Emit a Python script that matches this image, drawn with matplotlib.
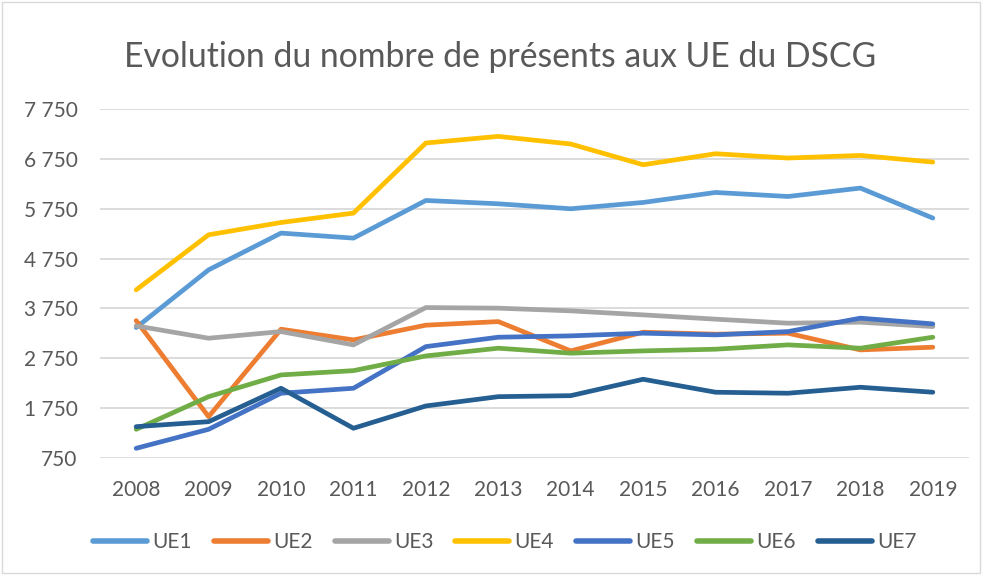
import matplotlib.pyplot as plt
from matplotlib.ticker import FuncFormatter
from matplotlib.patches import Rectangle

plt.rcParams['font.family'] = ['Lato', 'DejaVu Sans']

annees = ['2008', '2009', '2010', '2011', '2012', '2013', '2014', '2015', '2016', '2017', '2018', '2019']

ue1 = [3366, 4526, 5265, 5164, 5921, 5854, 5754, 5881, 6082, 6001, 6170, 5567]
ue2 = [3506, 1575, 3333, 3118, 3414, 3486, 2897, 3273, 3233, 3253, 2917, 2971]
ue3 = [3400, 3152, 3285, 3018, 3768, 3756, 3702, 3621, 3535, 3454, 3474, 3386]
ue4 = [4124, 5231, 5478, 5667, 7076, 7209, 7056, 6639, 6860, 6774, 6826, 6693]
ue5 = [939, 1321, 2046, 2146, 2983, 3172, 3199, 3253, 3219, 3285, 3555, 3440]
ue6 = [1321, 1977, 2414, 2500, 2796, 2951, 2851, 2897, 2931, 3018, 2951, 3172]
ue7 = [1374, 1474, 2146, 1342, 1790, 1977, 1997, 2327, 2066, 2046, 2166, 2066]

series = [
    ('UE1', ue1, '#5B9BD5'),
    ('UE2', ue2, '#ED7D31'),
    ('UE3', ue3, '#A5A5A5'),
    ('UE4', ue4, '#FFC000'),
    ('UE5', ue5, '#4472C4'),
    ('UE6', ue6, '#70AD47'),
    ('UE7', ue7, '#255E91'),
]

fig = plt.figure(figsize=(9.82, 5.75), dpi=100)
ax = fig.add_axes([0.1018, 0.204, 0.885, 0.6056])

x = list(range(len(annees)))
for nom, valeurs, couleur in series:
    ax.plot(x, valeurs, color=couleur, lw=3.4, label=nom,
            solid_capstyle='round', solid_joinstyle='round')

ax.set_xlim(-0.5, 11.5)
ax.set_ylim(750, 7750)
ax.set_yticks(range(750, 7751, 1000))
ax.yaxis.set_major_formatter(FuncFormatter(lambda v, p: f'{int(v):,}'.replace(',', ' ')))
ax.set_xticks(x)
ax.set_xticklabels(annees)

ax.grid(axis='y', color='#D9D9D9', lw=1.3)
ax.set_axisbelow(True)
for s in ax.spines.values():
    s.set_visible(False)
ax.tick_params(length=0, labelsize=15, colors='#595959')
ax.tick_params(axis='x', pad=16)
ax.tick_params(axis='y', pad=16)

fig.text(0.509, 0.8835, 'Evolution du nombre de présents aux UE du DSCG',
         ha='center', va='baseline', fontsize=24.3, color='#595959')

leg = fig.legend(loc='center', bbox_to_anchor=(0.514, 0.057), ncol=7, frameon=False,
                 fontsize=15, handlelength=2.6, columnspacing=1.05, handletextpad=0.25)
for t in leg.get_texts():
    t.set_color('#595959')
for l in leg.get_lines():
    l.set_linewidth(4)
    l.set_solid_capstyle('round')

fig.patches.append(Rectangle((0.002, 0.003), 0.996, 0.994, transform=fig.transFigure,
                             fill=False, edgecolor='#D9D9D9', lw=1))

fig.savefig('out.png', dpi=100)
